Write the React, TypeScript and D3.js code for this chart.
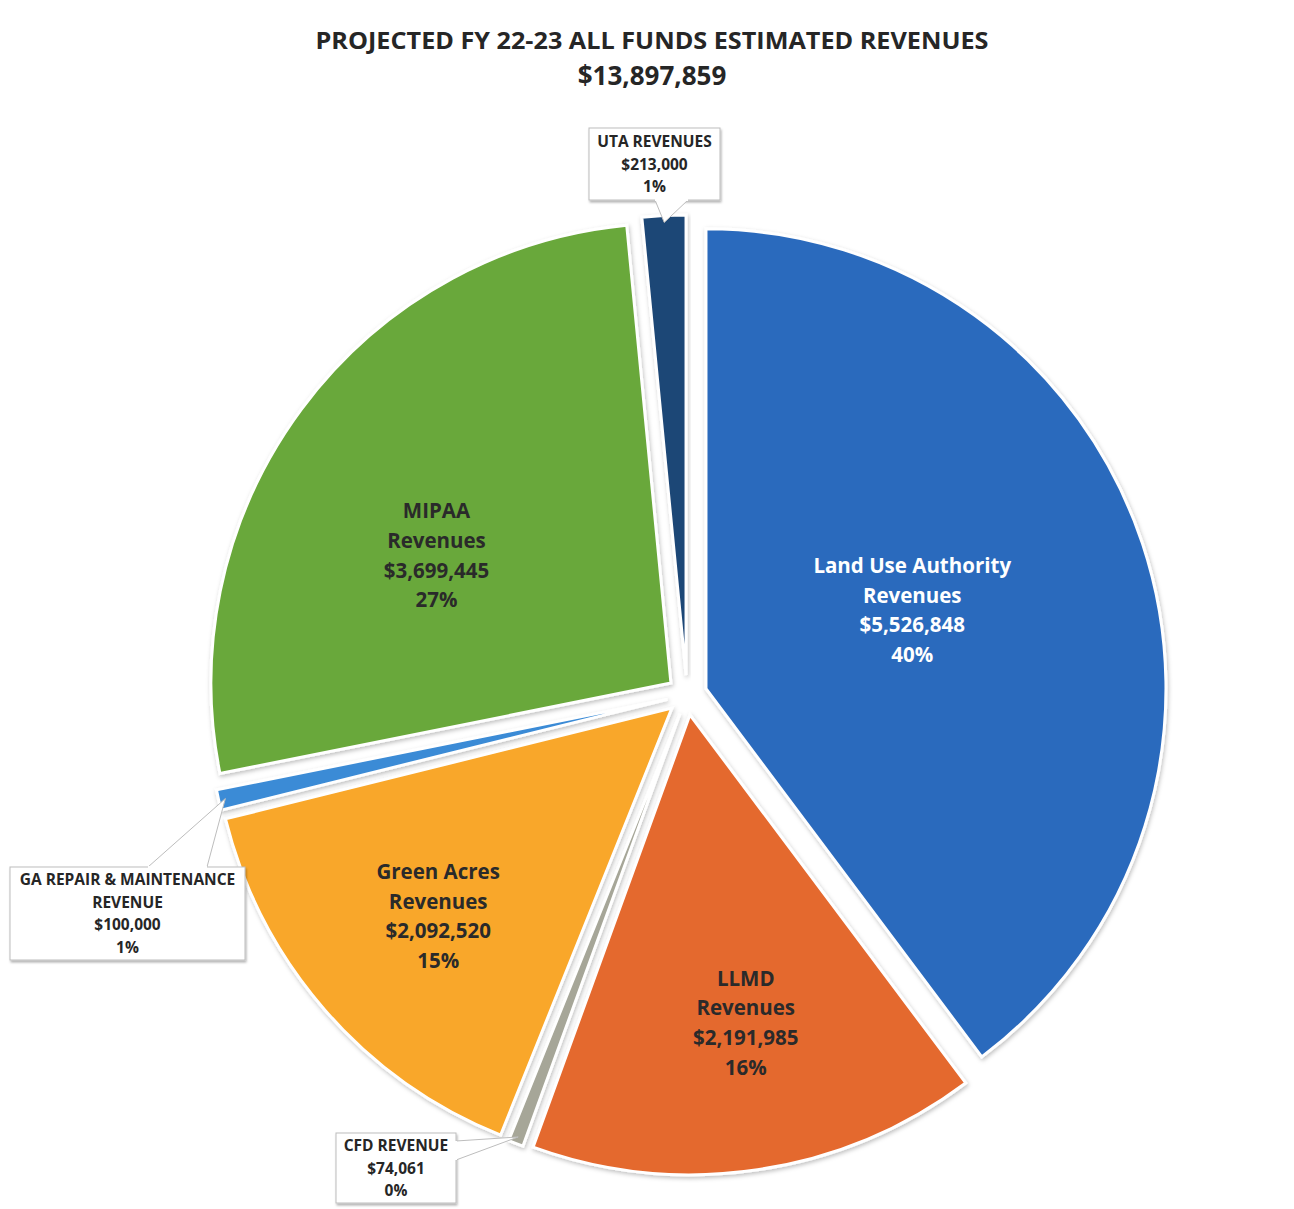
import React from "react";
import * as d3 from "d3";

const categories = [
  "Land Use Authority Revenues",
  "LLMD Revenues",
  "CFD REVENUE",
  "Green Acres Revenues",
  "GA REPAIR & MAINTENANCE REVENUE",
  "MIPAA Revenues",
  "UTA REVENUES",
];
const values = [5526848, 2191985, 74061, 2092520, 100000, 3699445, 213000];
const percentLabels = ["40%", "16%", "0%", "15%", "1%", "27%", "1%"];
const titleLines = ["PROJECTED FY 22-23 ALL FUNDS ESTIMATED REVENUES", "$13,897,859"];

const colors = ["#2C6BBD", "#E4692F", "#A6A698", "#F9A72B", "#3B8BD6", "#69A83A", "#1F4776"];

// label text lines inside slices (null => callout)
const insideLines: (string[] | null)[] = [
  ["Land Use Authority", "Revenues"],
  ["LLMD", "Revenues"],
  null,
  ["Green Acres", "Revenues"],
  null,
  ["MIPAA", "Revenues"],
  null,
];
const calloutLines: (string[] | null)[] = [
  null,
  null,
  ["CFD REVENUE"],
  null,
  ["GA REPAIR & MAINTENANCE", "REVENUE"],
  null,
  ["UTA REVENUES"],
];

const W = 1294;
const H = 1209;
const cx = 687;
const cy = 695;
const R = 460;
const EXPLODE = 20;
const labelRadiusFactor = [0.48, 0.68, 0, 0.68, 0, 0.58, 0];
const labelAngleShift = [-0.04, -0.03, 0, -0.01, 0, -0.13, 0];
// callout boxes: x, y, w, h, tail base points
const callouts: Record<number, { x: number; y: number; w: number; h: number; base: [number, number][] }> = {
  6: { x: 589, y: 128, w: 131, h: 72, base: [[655, 200], [688, 200]] },
  4: { x: 10, y: 867, w: 235, h: 93, base: [[148, 867], [207, 867]] },
  2: { x: 336, y: 1133, w: 120, h: 70, base: [[456, 1141], [456, 1160]] },
};

const fmt = d3.format("$,");
const FONT = "'Open Sans', 'Noto Sans', sans-serif";

export default function App() {
  const pie = d3
    .pie<number>()
    .sort(null)
    .value((d) => d)
    .startAngle(0)
    .endAngle(2 * Math.PI);
  const arcs = pie(values);
  const arc = d3.arc<d3.PieArcDatum<number>>().innerRadius(0).outerRadius(R);

  return (
    <svg
      width={W}
      height={H}
      viewBox={`0 0 ${W} ${H}`}
      style={{ position: "absolute", left: 0, top: 0, background: "#fff" }}
    >
      <defs>
        <filter id="sh" x="-10%" y="-10%" width="120%" height="120%">
          <feDropShadow dx="1" dy="2" stdDeviation="2" floodColor="#000" floodOpacity="0.25" />
        </filter>
        <filter id="bsh" x="-10%" y="-10%" width="120%" height="130%">
          <feDropShadow dx="1" dy="2" stdDeviation="1.2" floodColor="#000" floodOpacity="0.3" />
        </filter>
      </defs>
      <rect x={0} y={0} width={W} height={H} fill="#fff" />
      <g fontFamily={FONT} fontWeight={700} textAnchor="middle" fill="#262626">
        <text x={652} y={49} fontSize={22.5} textLength={673} lengthAdjust="spacingAndGlyphs">
          {titleLines[0]}
        </text>
        <text x={652} y={85} fontSize={26}>
          {titleLines[1]}
        </text>
      </g>
      <g transform={`translate(${cx},${cy})`}>
        {arcs.map((a, i) => {
          const mid = (a.startAngle + a.endAngle) / 2;
          const dx = Math.sin(mid) * EXPLODE;
          const dy = -Math.cos(mid) * EXPLODE;
          return (
            <g key={i} transform={`translate(${dx},${dy})`}>
              <path d={arc(a) as string} fill={colors[i]} stroke="#fff" strokeWidth={3} filter="url(#sh)" />
            </g>
          );
        })}
        {arcs.map((a, i) => {
          const lines = insideLines[i];
          if (!lines) return null;
          const mid = (a.startAngle + a.endAngle) / 2 + labelAngleShift[i];
          const rr = R * labelRadiusFactor[i];
          const x = Math.sin(mid) * (rr + EXPLODE);
          const y = -Math.cos(mid) * (rr + EXPLODE);
          const all = [...lines, fmt(values[i]), percentLabels[i]];
          const fill = i === 0 ? "#ffffff" : "#2a2a2a";
          return (
            <text
              key={"l" + i}
              x={x}
              y={y}
              textAnchor="middle"
              fontFamily={FONT}
              fontWeight={700}
              fontSize={20.5}
              fill={fill}
            >
              {all.map((t, k) => (
                <tspan key={k} x={x} y={y + (k - (all.length - 1) / 2) * 29.7 + 7.5}>
                  {t}
                </tspan>
              ))}
            </text>
          );
        })}
      </g>
      {arcs.map((a, i) => {
        const lines = calloutLines[i];
        const c = callouts[i];
        if (!lines || !c) return null;
        const mid = (a.startAngle + a.endAngle) / 2;
        const tipR = R * 0.985 + EXPLODE;
        const tx = cx + Math.sin(mid) * tipR;
        const ty = cy - Math.cos(mid) * tipR;
        const all = [...lines, fmt(values[i]), percentLabels[i]];
        const lh = 22.5;
        const midY = c.y + c.h / 2;
        return (
          <g key={"c" + i}>
            <rect x={c.x} y={c.y} width={c.w} height={c.h} fill="#fff" stroke="#bdbdbd" strokeWidth={1} filter="url(#bsh)" />
            <polygon
              points={`${c.base[0][0]},${c.base[0][1]} ${tx},${ty} ${c.base[1][0]},${c.base[1][1]}`}
              fill="#fff"
              stroke="#bdbdbd"
              strokeWidth={1}
            />
            <line
              x1={c.base[0][0]}
              y1={c.base[0][1]}
              x2={c.base[1][0]}
              y2={c.base[1][1]}
              stroke="#fff"
              strokeWidth={2}
            />
            <text textAnchor="middle" fontFamily={FONT} fontWeight={700} fontSize={15.5} fill="#262626">
              {all.map((t, k) => (
                <tspan key={k} x={c.x + c.w / 2} y={midY + (k - (all.length - 1) / 2) * lh + 5.5}>
                  {t}
                </tspan>
              ))}
            </text>
          </g>
        );
      })}
    </svg>
  );
}
